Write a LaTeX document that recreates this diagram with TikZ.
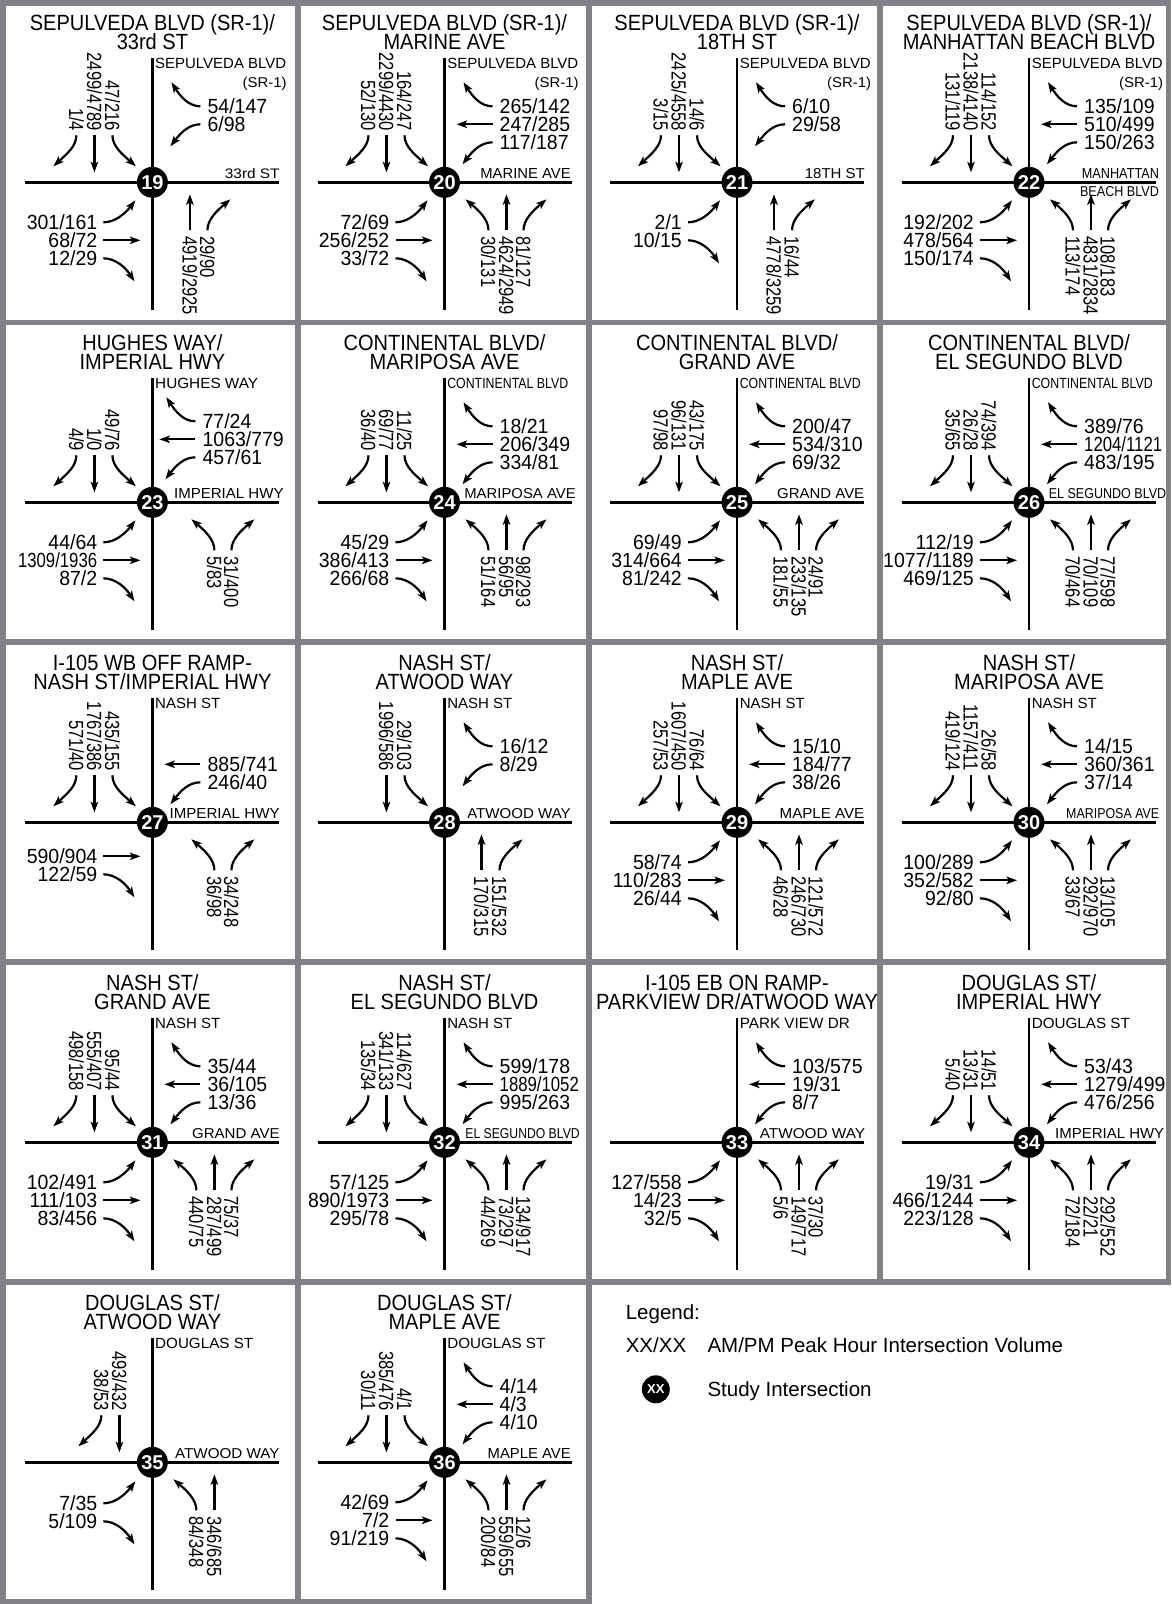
\documentclass[tikz,border=0pt]{standalone}
\usepackage{fontspec}
\setmainfont{Liberation Sans}
\usepackage{graphicx}
\usetikzlibrary{arrows.meta}
\definecolor{gridgray}{RGB}{128,130,133}
\newcommand\hv[1]{\scalebox{0.95}[1]{#1}}
\newcommand\rv[1]{\scalebox{0.81}[1]{#1}}
\newcommand\tv[1]{\scalebox{0.91}[1]{#1}}
\tikzset{
  road/.style={line width=2.8pt,black},
  mv/.style={line width=2.2pt,-{Stealth[length=10.5pt,width=7.5pt,inset=2.5pt]}},
  gridln/.style={line width=5.5pt,gridgray},
  vol/.style={inner sep=0pt,font=\fontsize{20.5}{20.5}\selectfont},
  vrot/.style={vol,rotate=-90},
  ttl/.style={inner sep=0pt,font=\fontsize{22}{22}\selectfont,anchor=base},
  stl/.style={inner sep=0pt,anchor=base west},
  ixc/.style={circle,fill=black,minimum size=31pt,inner sep=0pt,text=white,font=\fontsize{20}{20}\selectfont\bfseries},
  lgd/.style={inner sep=0pt,anchor=base west,font=\fontsize{20.5}{20.5}\selectfont},
}
% intersection skeleton
\newcommand\Roads[1]{%
  \draw[road] (0,-124) -- (0,128);
  \draw[road] (-127,0) -- (127,0);
  \node[ixc] (c#1) at (0,0) {#1};}
\newcommand\Ttl[2]{\node[ttl] at (0,-152) {\tv{#1}};\node[ttl] at (0,-133) {\tv{#2}};}
\newcommand\Nlab[2]{\node[stl] at (2.6,-114) {\resizebox{#1pt}{10.3pt}{#2}};}
\newcommand\SRlab{\node[stl] at (90,-95) {\resizebox{44pt}{10.3pt}{(SR-1)}};}
\newcommand\Elab[3]{\node[stl] at (#1,-4) {\resizebox{#2pt}{10pt}{#3}};}
% westbound (upper right)
\newcommand\WBR[2]{\draw[mv] (48,#1) .. controls (36,#1) and (28,#1-10) .. (19,#1-24);\node[vol,anchor=west] at (55,#1) {\hv{#2}};}
\newcommand\WBT[2]{\draw[mv] (48,#1) -- (12,#1);\node[vol,anchor=west] at (55,#1) {\hv{#2}};}
\newcommand\WBL[2]{\draw[mv] (48,#1) .. controls (36,#1) and (28,#1+9) .. (18,#1+22);\node[vol,anchor=west] at (55,#1) {\hv{#2}};}
% eastbound (lower left)
\newcommand\EBL[2]{\draw[mv] (-49,#1) .. controls (-37,#1) and (-27,#1-9) .. (-17,#1-22);\node[vol,anchor=east] at (-55,#1) {\hv{#2}};}
\newcommand\EBT[2]{\draw[mv] (-49,#1) -- (-12,#1);\node[vol,anchor=east] at (-55,#1) {\hv{#2}};}
\newcommand\EBR[2]{\draw[mv] (-49,#1) .. controls (-37,#1) and (-27,#1+9) .. (-18,#1+23);\node[vol,anchor=east] at (-55,#1) {\hv{#2}};}
% southbound (upper left)
\newcommand\SBR[2]{\draw[mv] (#1,-47) .. controls (#1,-36) and (#1-10,-28) .. (#1-23,-16);\node[vrot,anchor=east] at (#1,-51) {\rv{#2}};}
\newcommand\SBT[2]{\draw[mv] (#1,-47) -- (#1,-10);\node[vrot,anchor=east] at (#1,-51) {\rv{#2}};}
\newcommand\SBL[2]{\draw[mv] (#1,-47) .. controls (#1,-36) and (#1+10,-28) .. (#1+23.5,-16);\node[vrot,anchor=east] at (#1,-51) {\rv{#2}};}
% northbound (lower right)
\newcommand\NBL[2]{\draw[mv] (#1,48) .. controls (#1,37) and (#1-10,28) .. (#1-23,17);\node[vrot,anchor=west] at (#1,54) {\rv{#2}};}
\newcommand\NBT[2]{\draw[mv] (#1,48) -- (#1,12);\node[vrot,anchor=west] at (#1,54) {\rv{#2}};}
\newcommand\NBR[2]{\draw[mv] (#1,48) .. controls (#1,37) and (#1+10,28) .. (#1+23,17);\node[vrot,anchor=west] at (#1,54) {\rv{#2}};}
\newcommand\sq[1]{\scalebox{0.86}[1]{#1}}

\begin{document}
\begin{tikzpicture}[x=1pt,y=-1pt]
\useasboundingbox (0,0) rectangle (1171,1604);
\fill[white] (0,0) rectangle (1171,1604);
% frame grid
\draw[gridln] (0,2.75) -- (1171,2.75);
\draw[gridln] (0,322.5) -- (1171,322.5);
\draw[gridln] (0,642) -- (1171,642);
\draw[gridln] (0,962) -- (1171,962);
\draw[gridln] (0,1282) -- (1171,1282);
\draw[gridln] (0,1601.25) -- (591.75,1601.25);
\draw[gridln] (2.75,0) -- (2.75,1604);
\draw[gridln] (298,0) -- (298,1604);
\draw[gridln] (589,0) -- (589,1604);
\draw[gridln] (880,0) -- (880,1282);
\draw[gridln] (1168.25,0) -- (1168.25,1282);

% ---- 19
\begin{scope}[shift={(152.4,182.3)}]
\Roads{19}\Ttl{SEPULVEDA BLVD (SR-1)/}{33rd ST}
\Nlab{131}{SEPULVEDA BLVD}\SRlab\Elab{72.3}{54.7}{33rd ST}
\SBR{-76}{1/4}\SBT{-58}{2499/4789}\SBL{-40}{47/216}
\WBR{-76}{54/147}\WBL{-58}{6/98}
\EBL{40}{301/161}\EBT{58}{68/72}\EBR{76}{12/29}
\NBT{37.5}{4919/2925}\NBR{55}{29/90}
\end{scope}
% ---- 20
\begin{scope}[shift={(444.5,182.3)}]
\Roads{20}\Ttl{SEPULVEDA BLVD (SR-1)/}{MARINE AVE}
\Nlab{131}{SEPULVEDA BLVD}\SRlab\Elab{35.7}{90.3}{MARINE AVE}
\SBR{-76}{52/130}\SBT{-58}{2299/4430}\SBL{-40}{164/247}
\WBR{-76}{265/142}\WBT{-58}{247/285}\WBL{-40}{117/187}
\EBL{40}{72/69}\EBT{58}{256/252}\EBR{76}{33/72}
\NBL{44}{30/131}\NBT{62}{4624/2949}\NBR{79}{81/127}
\end{scope}
% ---- 21
\begin{scope}[shift={(737,182.3)}]
\Roads{21}\Ttl{SEPULVEDA BLVD (SR-1)/}{18TH ST}
\Nlab{131}{SEPULVEDA BLVD}\SRlab\Elab{67.7}{60}{18TH ST}
\SBR{-76}{3/15}\SBT{-58}{2425/4558}\SBL{-40}{14/6}
\WBR{-76}{6/10}\WBL{-58}{29/58}
\EBL{40}{2/1}\EBR{58}{10/15}
\NBT{37}{4778/3259}\NBR{55}{16/44}
\end{scope}
% ---- 22
\begin{scope}[shift={(1029,182.3)}]
\Roads{22}\Ttl{SEPULVEDA BLVD (SR-1)/}{MANHATTAN BEACH BLVD}
\Nlab{131}{SEPULVEDA BLVD}\SRlab
\Elab{52.7}{77}{MANHATTAN}
\node[stl] at (50.8,13.7) {\resizebox{79pt}{10pt}{BEACH BLVD}};
\SBR{-76}{131/119}\SBT{-58}{2138/4140}\SBL{-40}{114/152}
\WBR{-76}{135/109}\WBT{-58}{510/499}\WBL{-40}{150/263}
\EBL{40}{192/202}\EBT{58}{478/564}\EBR{76}{150/174}
\NBL{44}{113/174}\NBT{62}{4831/2834}\NBR{79}{108/183}
\end{scope}
% ---- 23
\begin{scope}[shift={(152.4,502.3)}]
\Roads{23}\Ttl{HUGHES WAY/}{IMPERIAL HWY}
\Nlab{103}{HUGHES WAY}\Elab{21.5}{109.5}{IMPERIAL HWY}
\SBR{-76}{4/9}\SBT{-58}{1/0}\SBL{-40}{49/76}
\begin{scope}[shift={(-5,-5)}]
\WBR{-76}{77/24}\WBT{-58}{1063/779}\WBL{-40}{457/61}
\end{scope}
\EBL{40}{44/64}\EBT{58}{\sq{1309/1936}}\EBR{76}{87/2}
\NBL{62}{5/83}\NBR{79}{31/400}
\end{scope}
% ---- 24
\begin{scope}[shift={(444.5,502.3)}]
\Roads{24}\Ttl{CONTINENTAL BLVD/}{MARIPOSA AVE}
\Nlab{121}{CONTINENTAL BLVD}\Elab{19.6}{111.4}{MARIPOSA AVE}
\SBR{-76}{36/40}\SBT{-58}{69/77}\SBL{-40}{11/25}
\WBR{-76}{18/21}\WBT{-58}{206/349}\WBL{-40}{334/81}
\EBL{40}{45/29}\EBT{58}{386/413}\EBR{76}{266/68}
\NBL{44}{51/164}\NBT{62}{56/95}\NBR{79}{98/293}
\end{scope}
% ---- 25
\begin{scope}[shift={(737,502.3)}]
\Roads{25}\Ttl{CONTINENTAL BLVD/}{GRAND AVE}
\Nlab{121}{CONTINENTAL BLVD}\Elab{40}{87}{GRAND AVE}
\SBR{-76}{97/98}\SBT{-58}{96/131}\SBL{-40}{43/175}
\WBR{-76}{200/47}\WBT{-58}{534/310}\WBL{-40}{69/32}
\EBL{40}{69/49}\EBT{58}{314/664}\EBR{76}{81/242}
\NBL{44}{181/55}\NBT{62}{233/135}\NBR{79}{24/91}
\end{scope}
% ---- 26
\begin{scope}[shift={(1029,502.3)}]
\Roads{26}\Ttl{CONTINENTAL BLVD/}{EL SEGUNDO BLVD}
\Nlab{121}{CONTINENTAL BLVD}\Elab{19.6}{117.4}{EL SEGUNDO BLVD}
\SBR{-76}{35/65}\SBT{-58}{26/28}\SBL{-40}{74/394}
\WBR{-76}{389/76}\WBT{-58}{\sq{1204/1121}}\WBL{-40}{483/195}
\EBL{40}{112/19}\EBT{58}{1077/1189}\EBR{76}{469/125}
\NBL{44}{70/464}\NBT{62}{70/109}\NBR{79}{77/598}
\end{scope}
% ---- 27
\begin{scope}[shift={(152.4,822.3)}]
\Roads{27}\Ttl{I-105 WB OFF RAMP-}{NASH ST/IMPERIAL HWY}
\Nlab{65}{NASH ST}\Elab{17}{110}{IMPERIAL HWY}
\SBR{-76}{571/40}\SBT{-58}{1767/386}\SBL{-40}{435/155}
\WBT{-58}{885/741}\WBL{-40}{246/40}
\EBT{34}{590/904}\EBR{52}{122/59}
\NBL{62}{36/98}\NBR{79}{34/248}
\end{scope}
% ---- 28
\begin{scope}[shift={(444.5,822.3)}]
\Roads{28}\Ttl{NASH ST/}{ATWOOD WAY}
\Nlab{65}{NASH ST}\Elab{22.6}{103.4}{ATWOOD WAY}
\SBT{-58}{1996/586}\SBL{-40}{29/103}
\WBR{-76}{16/12}\WBL{-58}{8/29}
\NBT{37}{170/315}\NBR{55}{151/532}
\end{scope}
% ---- 29
\begin{scope}[shift={(737,822.3)}]
\Roads{29}\Ttl{NASH ST/}{MAPLE AVE}
\Nlab{65}{NASH ST}\Elab{42.5}{84.5}{MAPLE AVE}
\SBR{-76}{257/53}\SBT{-58}{1607/450}\SBL{-40}{76/64}
\WBR{-76}{15/10}\WBT{-58}{184/77}\WBL{-40}{38/26}
\EBL{40}{58/74}\EBT{58}{110/283}\EBR{76}{26/44}
\NBL{44}{46/28}\NBT{62}{246/730}\NBR{79}{121/572}
\end{scope}
% ---- 30
\begin{scope}[shift={(1029,822.3)}]
\Roads{30}\Ttl{NASH ST/}{MARIPOSA AVE}
\Nlab{65}{NASH ST}\Elab{37}{93}{MARIPOSA AVE}
\SBR{-76}{419/124}\SBT{-58}{1157/411}\SBL{-40}{26/58}
\WBR{-76}{14/15}\WBT{-58}{360/361}\WBL{-40}{37/14}
\EBL{40}{100/289}\EBT{58}{352/582}\EBR{76}{92/80}
\NBL{44}{33/67}\NBT{62}{292/970}\NBR{79}{13/105}
\end{scope}
% ---- 31
\begin{scope}[shift={(152.4,1142.3)}]
\Roads{31}\Ttl{NASH ST/}{GRAND AVE}
\Nlab{65}{NASH ST}\Elab{39.5}{87.5}{GRAND AVE}
\SBR{-76}{498/158}\SBT{-58}{555/407}\SBL{-40}{95/44}
\WBR{-76}{35/44}\WBT{-58}{36/105}\WBL{-40}{13/36}
\EBL{40}{102/491}\EBT{58}{111/103}\EBR{76}{83/456}
\NBL{44}{440/75}\NBT{62}{287/499}\NBR{79}{75/37}
\end{scope}
% ---- 32
\begin{scope}[shift={(444.5,1142.3)}]
\Roads{32}\Ttl{NASH ST/}{EL SEGUNDO BLVD}
\Nlab{65}{NASH ST}\Elab{20.7}{114.3}{EL SEGUNDO BLVD}
\SBR{-76}{135/34}\SBT{-58}{341/133}\SBL{-40}{114/627}
\WBR{-76}{599/178}\WBT{-58}{\sq{1889/1052}}\WBL{-40}{995/263}
\EBL{40}{57/125}\EBT{58}{890/1973}\EBR{76}{295/78}
\NBL{44}{44/269}\NBT{62}{73/297}\NBR{79}{134/917}
\end{scope}
% ---- 33
\begin{scope}[shift={(737,1142.3)}]
\Roads{33}\Ttl{I-105 EB ON RAMP-}{PARKVIEW DR/ATWOOD WAY}
\Nlab{110}{PARK VIEW DR}\Elab{22.6}{105.4}{ATWOOD WAY}
\WBR{-76}{103/575}\WBT{-58}{19/31}\WBL{-40}{8/7}
\EBL{40}{127/558}\EBT{58}{14/23}\EBR{76}{32/5}
\NBL{44}{5/6}\NBT{62}{149/717}\NBR{79}{37/30}
\end{scope}
% ---- 34
\begin{scope}[shift={(1029,1142.3)}]
\Roads{34}\Ttl{DOUGLAS ST/}{IMPERIAL HWY}
\Nlab{98}{DOUGLAS ST}\Elab{26}{109}{IMPERIAL HWY}
\SBR{-76}{5/40}\SBT{-58}{13/31}\SBL{-40}{14/51}
\WBR{-76}{53/43}\WBT{-58}{1279/499}\WBL{-40}{476/256}
\EBL{40}{19/31}\EBT{58}{466/1244}\EBR{76}{223/128}
\NBL{44}{72/184}\NBT{62}{22/21}\NBR{79}{292/552}
\end{scope}
% ---- 35
\begin{scope}[shift={(152.4,1462.3)}]
\Roads{35}\Ttl{DOUGLAS ST/}{ATWOOD WAY}
\Nlab{98}{DOUGLAS ST}\Elab{22.6}{104.4}{ATWOOD WAY}
\SBR{-51}{38/53}\SBT{-33}{493/432}
\EBL{41}{7/35}\EBR{59}{5/109}
\NBL{44}{84/348}\NBT{62}{346/685}
\end{scope}
% ---- 36
\begin{scope}[shift={(444.5,1462.3)}]
\Roads{36}\Ttl{DOUGLAS ST/}{MAPLE AVE}
\Nlab{98}{DOUGLAS ST}\Elab{43}{83}{MAPLE AVE}
\SBR{-76}{30/11}\SBT{-58}{385/476}\SBL{-40}{4/1}
\WBR{-76}{4/14}\WBT{-58}{4/3}\WBL{-40}{4/10}
\EBL{40}{42/69}\EBT{58}{7/2}\EBR{76}{91/219}
\NBL{44}{200/84}\NBT{62}{559/655}\NBR{79}{12/6}
\end{scope}
% ---- legend
\node[lgd] (lg) at (625.6,1319.5) {Legend:};
\node[lgd] (lgx) at (625.6,1352.5) {XX/XX};
\node[lgd] (lgv) at (707.3,1352.5) {AM/PM Peak Hour Intersection Volume};
\node[circle,fill=black,minimum size=28pt,inner sep=0pt,text=white,font=\fontsize{13}{13}\selectfont\bfseries] (lgc) at (655.8,1389.3) {XX};
\node[lgd] (lgs) at (707.3,1396.5) {Study Intersection};
\end{tikzpicture}
\end{document}
